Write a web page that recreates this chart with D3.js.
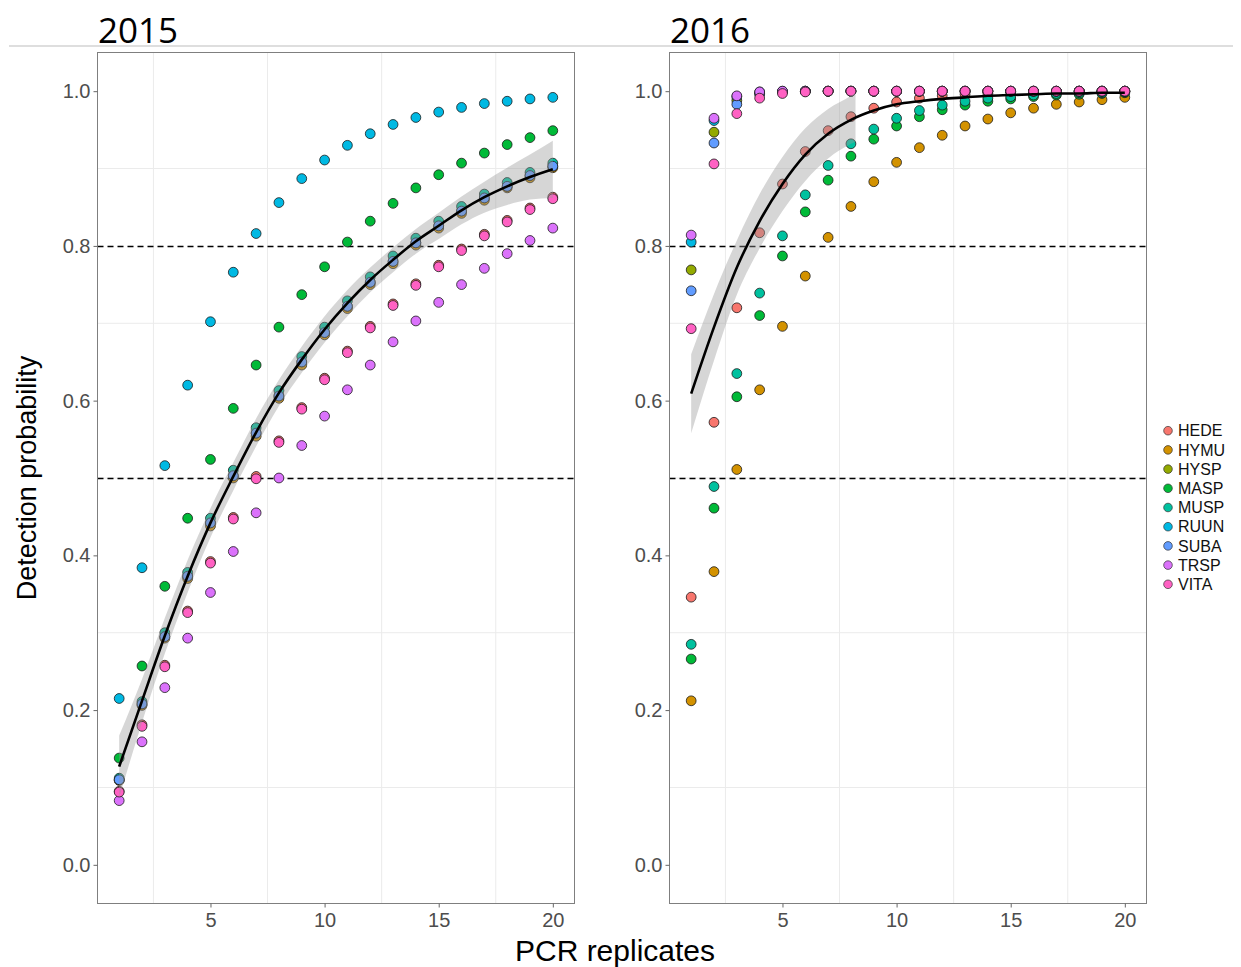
<!DOCTYPE html>
<html>
<head>
<meta charset="utf-8">
<script src="https://cdn.jsdelivr.net/npm/d3@7"></script>
<style>
body{margin:0;background:#fff}
svg{display:block}
</style>
</head>
<body>
<div id="chart"></div>
<script>
// PCR replicates on the x axis
const replicates = [1,2,3,4,5,6,7,8,9,10,11,12,13,14,15,16,17,18,19,20]
const species = ["HEDE","HYMU","HYSP","MASP","MUSP","RUUN","SUBA","TRSP","VITA"]
const speciesColours = ["#F8766D","#D39200","#93AA00","#00BA38","#00C19F","#00B9E3","#619CFF","#DB72FB","#FF61C3"]
const years = ["2015","2016"]

const xTicks = [5,10,15,20]
const yTicks = [0,0.2,0.4,0.6,0.8,1.0]
const xMinor = [2.5,7.5,12.5,17.5]
const yMinor = [0.1,0.3,0.5,0.7,0.9]
const thresholds = [0.5,0.8]

// 2015 detection probability, per species
const hede2015 = [.095,.181,.258,.328,.392,.449,.502,.548,.591,.629,.664,.696,.725,.751,.775,.796,.815,.833,.849,.863]
const hymu2015 = [.109,.206,.293,.370,.438,.500,.554,.603,.646,.685,.719,.750,.777,.801,.823,.842,.859,.875,.888,.901]
const hysp2015 = [.110,.208,.295,.373,.442,.503,.558,.606,.650,.688,.722,.753,.780,.804,.826,.845,.862,.877,.891,.903]
const masp2015 = [.138,.257,.360,.448,.524,.590,.646,.695,.737,.773,.805,.832,.855,.875,.892,.907,.920,.931,.940,.949]
const musp2015 = [.112,.211,.300,.378,.448,.510,.565,.613,.657,.695,.729,.760,.787,.810,.832,.851,.867,.882,.895,.907]
const ruun2015 = [.215,.384,.516,.620,.702,.766,.816,.856,.887,.911,.930,.945,.957,.966,.973,.979,.984,.987,.990,.992]
const suba2015 = [.110,.208,.295,.373,.442,.503,.558,.606,.650,.688,.722,.753,.780,.804,.826,.845,.862,.877,.891,.903]
const trsp2015 = [.083,.159,.229,.293,.352,.405,.455,.500,.542,.580,.614,.646,.676,.703,.727,.750,.771,.790,.807,.823]
const vita2015 = [.094,.179,.256,.326,.390,.447,.499,.546,.589,.627,.662,.694,.723,.749,.773,.794,.813,.831,.847,.861]

// 2016 detection probability, per species
const hede2016 = [.346,.572,.720,.817,.880,.922,.949,.967,.978,.986,.991,.994,.996,.997,.998,.999,.999,1,1,1]
const hymu2016 = [.212,.379,.511,.614,.696,.761,.811,.851,.883,.908,.927,.943,.955,.964,.972,.978,.983,.986,.989,.992]
const hysp2016 = [.769,.947,.988,.997,.999,1,1,1,1,1,1,1,1,1,1,1,1,1,1,1]
const masp2016 = [.266,.461,.605,.710,.787,.844,.885,.916,.938,.955,.967,.976,.982,.987,.990,.993,.995,.996,.997,.998]
const musp2016 = [.285,.489,.635,.739,.813,.866,.904,.932,.951,.965,.975,.982,.987,.991,.993,.995,.997,.998,.998,.999]
const ruun2016 = [.805,.962,.993,.999,1,1,1,1,1,1,1,1,1,1,1,1,1,1,1,1]
const suba2016 = [.742,.933,.983,.996,.999,1,1,1,1,1,1,1,1,1,1,1,1,1,1,1]
const trsp2016 = [.814,.965,.994,.999,1,1,1,1,1,1,1,1,1,1,1,1,1,1,1,1]
const vita2016 = [.693,.906,.971,.991,.997,.999,1,1,1,1,1,1,1,1,1,1,1,1,1,1]

// smoother + confidence band
const fit2015 = [.127,.212,.296,.373,.442,.502,.559,.610,.653,.692,.726,.756,.782,.806,.826,.846,.863,.877,.889,.899]
const lo2015 = [.087,.184,.273,.352,.423,.484,.541,.593,.636,.675,.709,.740,.766,.790,.809,.828,.843,.853,.860,.862]
const hi2015 = [.167,.240,.319,.394,.461,.520,.577,.627,.670,.709,.743,.772,.798,.822,.843,.864,.883,.901,.918,.936]

const fit2016 = [.609,.695,.772,.832,.880,.918,.945,.963,.975,.983,.987,.990,.992,.994,.995,.996,.997,.997,.998,.998]
const band2016X = [1,2,3,4,5,6,7,8,8.2]
const lo2016 = [.558,.652,.737,.797,.845,.884,.913,.932,.935]
const hi2016 = [.660,.738,.807,.867,.915,.952,.977,.994,.998]

const points2015 = [hede2015,hymu2015,hysp2015,masp2015,musp2015,ruun2015,suba2015,trsp2015,vita2015]
const points2016 = [hede2016,hymu2016,hysp2016,masp2016,musp2016,ruun2016,suba2016,trsp2016,vita2016]

drawChart("#chart")

function drawChart(id){
    const canvas = createCanvas()
    const svg = d3.select(id).append("svg").attr("width",canvas.width).attr("height",canvas.height)

    const colour = d3.scaleOrdinal().domain(species).range(speciesColours)

    svg.append("line").attr("x1",9).attr("x2",1233).attr("y1",46).attr("y2",46)
      .attr("stroke","#bdbdbd").attr("stroke-width",1)

    const panels = [
      {year: years[0], left: canvas.lefts[0], pts: points2015, fit: fit2015, bandX: replicates, lo: lo2015, hi: hi2015},
      {year: years[1], left: canvas.lefts[1], pts: points2016, fit: fit2016, bandX: band2016X, lo: lo2016, hi: hi2016}
    ]
    panels.forEach(p => drawPanel(svg,p,canvas,colour))

    // axis titles
    svg.append("text").attr("transform","translate(36,478) rotate(-90)")
      .attr("text-anchor","middle").attr("font-family","Liberation Sans, Arial, sans-serif")
      .attr("font-size","27px").attr("fill","#000").text("Detection probability")
    svg.append("text").attr("x",615).attr("y",961)
      .attr("text-anchor","middle").attr("font-family","Liberation Sans, Arial, sans-serif")
      .attr("font-size","30px").attr("fill","#000").text("PCR replicates")

    drawLegend(svg,colour)
}

function createCanvas(){
    return {width: 1241, height: 967, lefts: [97.5,669.5], top: 52.5, pw: 477, ph: 851}
}

function drawPanel(svg,p,canvas,colour){
    const x = d3.scaleLinear().domain([0.05,20.95]).range([p.left,p.left+canvas.pw])
    const y = d3.scaleLinear().domain([-0.05,1.05]).range([canvas.top+canvas.ph,canvas.top])
    const g = svg.append("g")

    g.append("text").attr("x",p.left+0.5).attr("y",43)
      .attr("font-family","Open Sans, sans-serif").attr("font-size","35px").attr("fill","#000").text(p.year)

    // minor grid only
    g.selectAll(".gx").data(xMinor).enter().append("line")
      .attr("x1",d => x(d)).attr("x2",d => x(d)).attr("y1",canvas.top).attr("y2",canvas.top+canvas.ph)
      .attr("stroke","#ebebeb").attr("stroke-width",1)
    g.selectAll(".gy").data(yMinor).enter().append("line")
      .attr("x1",p.left).attr("x2",p.left+canvas.pw).attr("y1",d => y(d)).attr("y2",d => y(d))
      .attr("stroke","#ebebeb").attr("stroke-width",1)

    g.selectAll(".thr").data(thresholds).enter().append("line")
      .attr("x1",p.left).attr("x2",p.left+canvas.pw).attr("y1",d => Math.round(y(d))+0.5).attr("y2",d => Math.round(y(d))+0.5)
      .attr("stroke","#000").attr("stroke-width",1.3).attr("stroke-dasharray","6 4")

    const rows = []
    p.pts.forEach((vals,i) => vals.forEach((v,j) => rows.push({sp: species[i], k: replicates[j], v: v})))

    g.selectAll(".pt").data(rows).enter().append("circle")
      .attr("cx",d => x(d.k)).attr("cy",d => y(d.v)).attr("r",4.9)
      .attr("fill",d => colour(d.sp)).attr("stroke","#1a1a1a").attr("stroke-width",0.8)

    const band = p.bandX.map((k,i) => ({k: k, lo: p.lo[i], hi: p.hi[i]}))
    g.append("path").datum(band)
      .attr("d",d3.area().x(d => x(d.k)).y0(d => y(d.lo)).y1(d => y(d.hi)).curve(d3.curveMonotoneX))
      .attr("fill","#999999").attr("fill-opacity",0.4)

    g.append("path").datum(replicates.map((k,i) => ({k: k, v: p.fit[i]})))
      .attr("d",d3.line().x(d => x(d.k)).y(d => y(d.v)).curve(d3.curveMonotoneX))
      .attr("fill","none").attr("stroke","#000").attr("stroke-width",2.6)

    g.append("rect").attr("x",p.left).attr("y",canvas.top).attr("width",canvas.pw).attr("height",canvas.ph)
      .attr("fill","none").attr("stroke","#7f7f7f").attr("stroke-width",1)

    const ax = g.append("g").attr("transform",`translate(0,${canvas.top+canvas.ph})`)
      .call(d3.axisBottom(x).tickValues(xTicks).tickSize(4).tickPadding(5).tickFormat(d3.format("d")))
    const ay = g.append("g").attr("transform",`translate(${p.left},0)`)
      .call(d3.axisLeft(y).tickValues(yTicks).tickSize(4).tickPadding(3).tickFormat(d3.format(".1f")))
    ;[ax,ay].forEach(a => {
        a.select(".domain").remove()
        a.selectAll("line").attr("stroke","#666")
        a.selectAll("text").attr("font-family","Liberation Sans, Arial, sans-serif").attr("font-size","20px").attr("fill","#4d4d4d")
    })
}

function drawLegend(svg,colour){
    const items = svg.selectAll(".leg").data(species).enter().append("g")
      .attr("transform",(d,j) => `translate(1168,${430.7+j*19.2})`)
    items.append("circle").attr("r",4.3).attr("fill",d => colour(d)).attr("stroke","#333").attr("stroke-width",0.7)
    items.append("text").attr("x",10).attr("dy","0.36em")
      .attr("font-family","Liberation Sans, Arial, sans-serif").attr("font-size","16px").attr("fill","#111").text(d => d)
}
</script>
</body>
</html>
